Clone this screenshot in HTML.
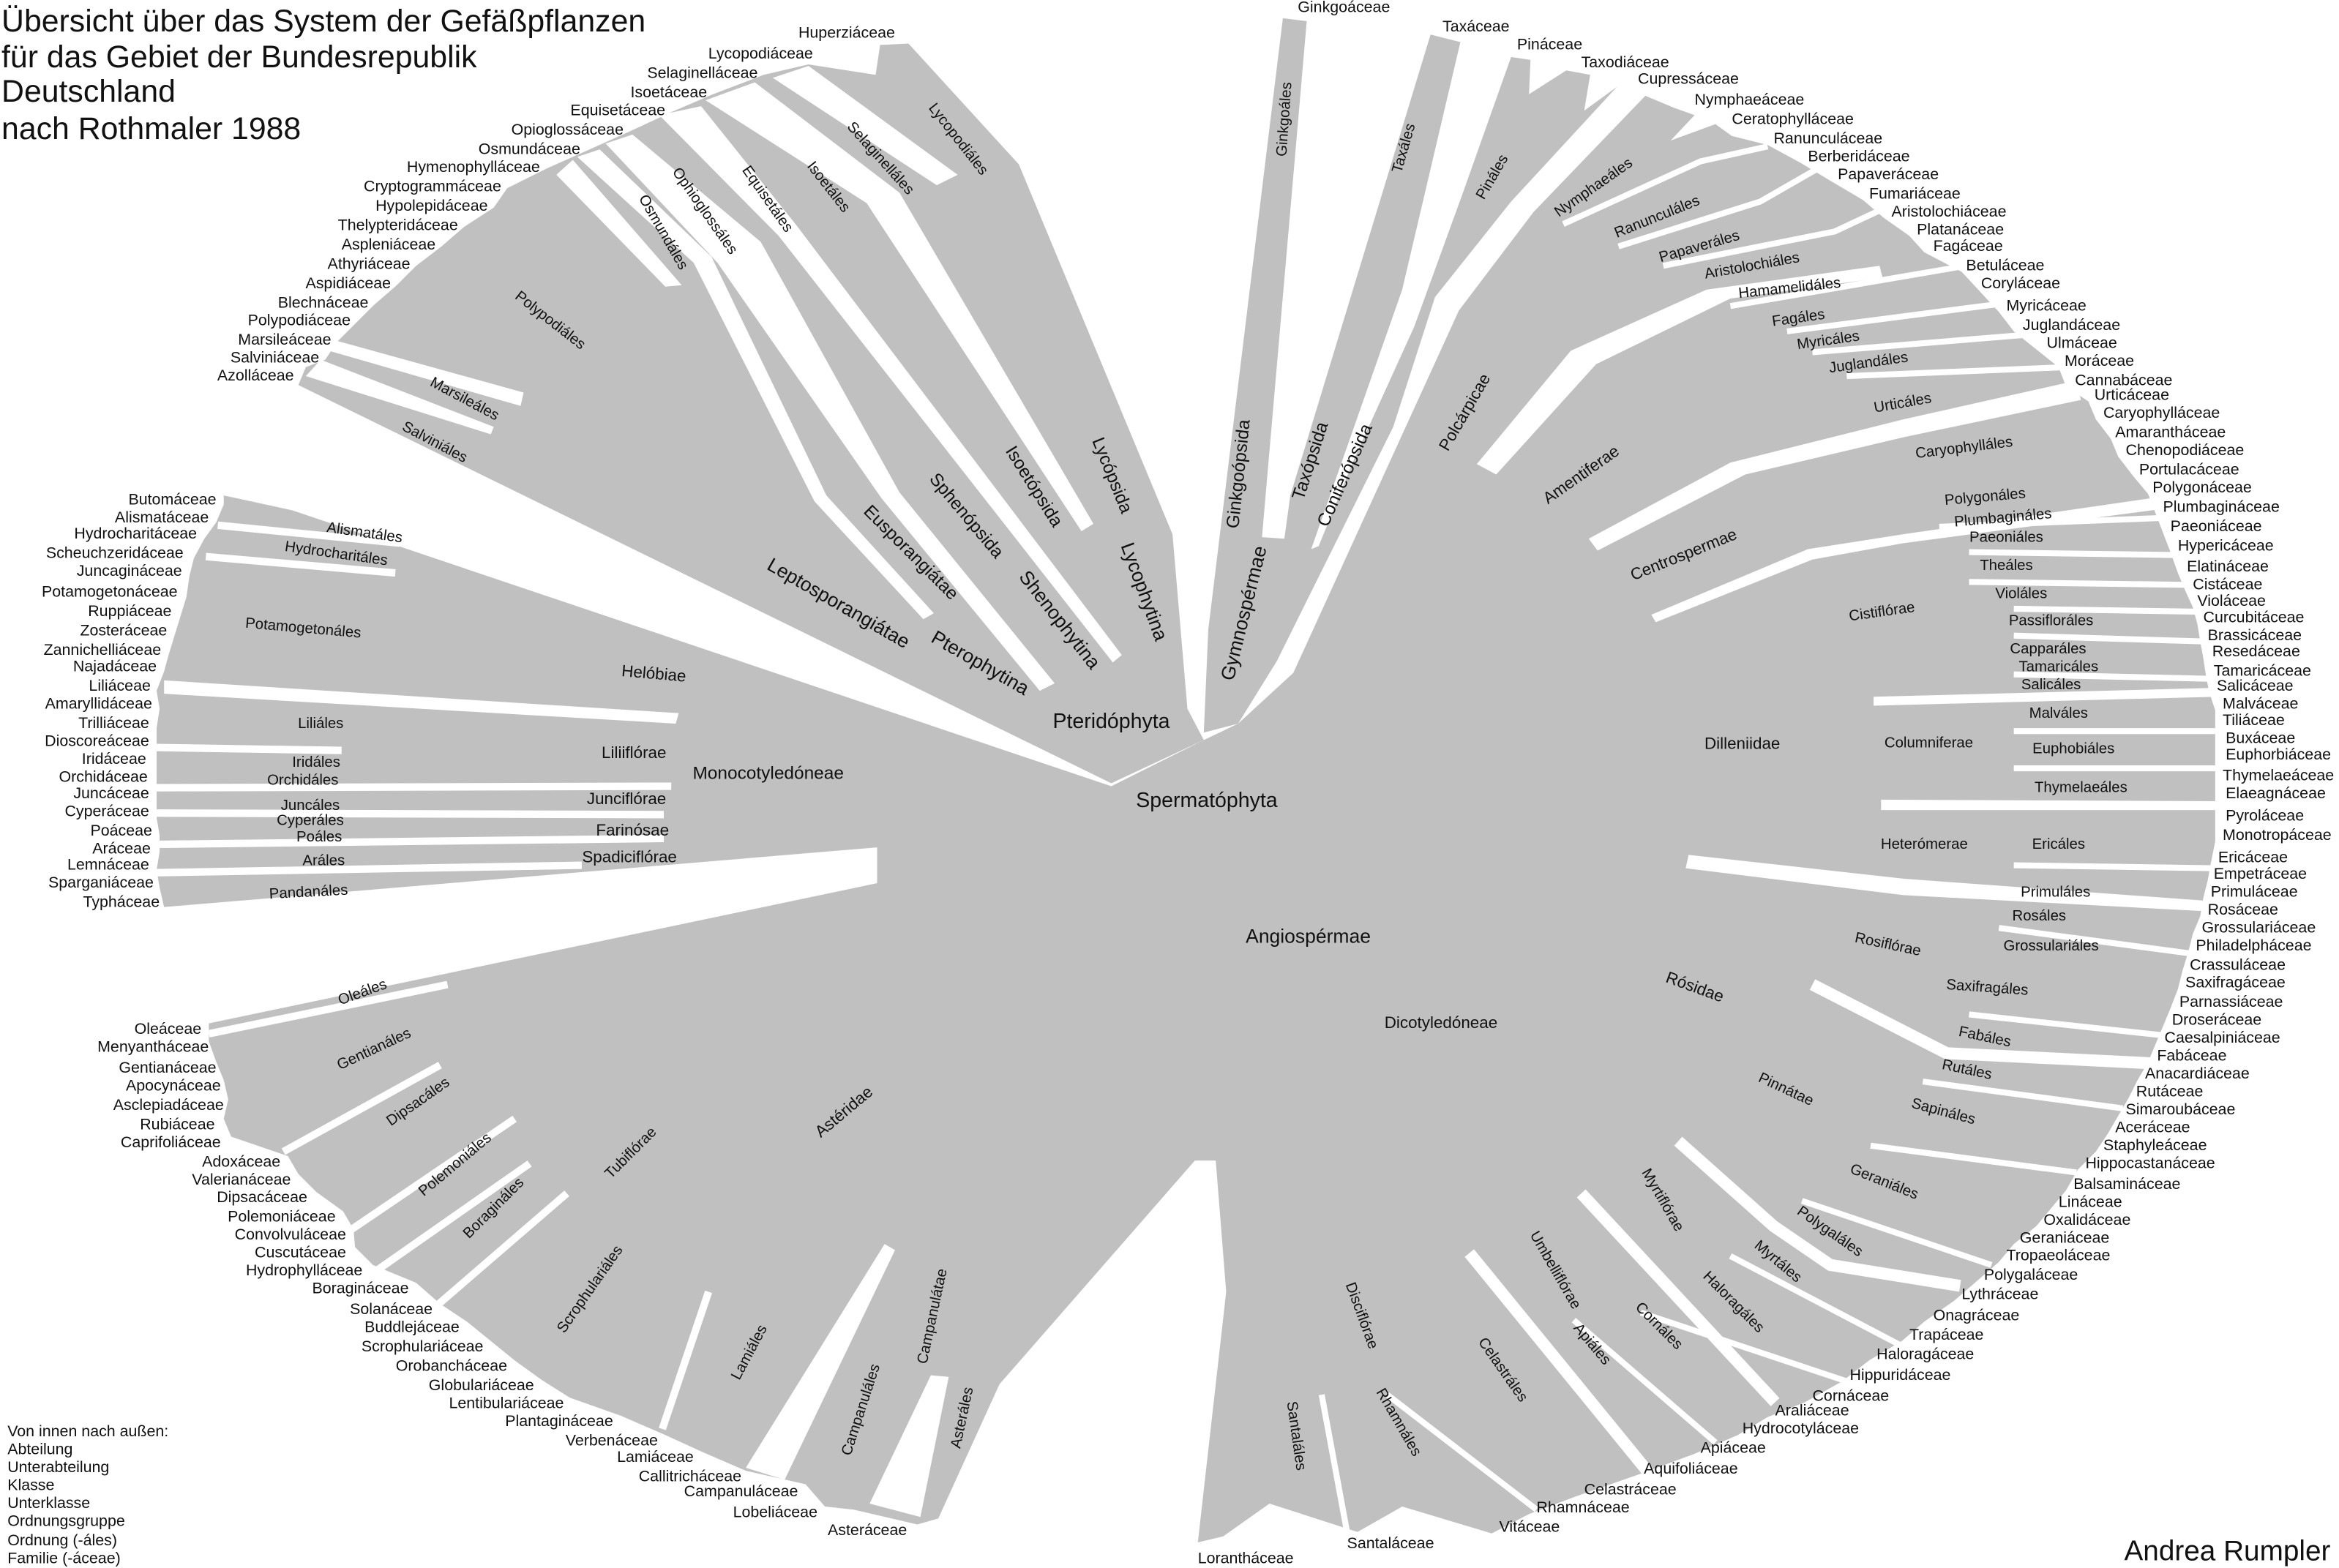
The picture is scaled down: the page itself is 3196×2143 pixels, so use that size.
<!DOCTYPE html>
<html><head><meta charset="utf-8">
<style>
html,body{margin:0;padding:0;background:#fff;}
svg{display:block;}
text{font-family:"Liberation Sans",Arial,sans-serif;fill:#111;}
.f{font-size:10.5px;}
.e{text-anchor:end;}
.m{text-anchor:middle;}
.o{font-size:10px;text-anchor:middle;}
.c{font-size:12px;text-anchor:middle;}
.s{font-size:11px;text-anchor:middle;}
</style></head>
<body>
<svg width="3196" height="2143" viewBox="0 0 1568 1051" xmlns="http://www.w3.org/2000/svg">
<rect width="1568" height="1051" fill="#fff"/>
<g fill="#c0c0c0">
<!-- Pteridophyta -->
<polygon points="807,496 745,525 200,258 205,246 218,241 226,229 239,216 251,204 266,191 279,178 296,165 311,152 331,139 340,126 366,113 393,101 422,88 450,75 478,63 512,50 542,43 587,50 590,30 609,29 683,110 786,358 796,475"/>
<!-- Gymnosperms -->
<polygon points="807,491 810,422 860,12 876,14 846,360 861,361 865,332 959,23 979,28 940,194 879,368 884,366 908,307 948,219 980,131 1013,38 1026,40 1025,63 1050,47 1066,50 1062,74 1084,58 1013,135 962,199 934,286 856,443 830,485"/>
<!-- Main blob -->
<polygon points="745,527 196,342 150,332 150,338 145,350 137,361 130,374 127,386 125,400 121,413 117,426 113,439 110,450 105,463 107,475 105,488 105,500 105,512 105,524 105,535 105,548 107,560 107,571 105,583 107,595 110,608 588,568 588,592 140,686 140,698 145,712 150,724 153,737 150,750 155,762 193,775 200,787 212,799 230,812 237,824 238,836 250,848 279,860 295,874 313,886 329,899 345,912 363,925 382,937 416,949 446,962 470,973 500,986 540,995 553,1010 572,1012 615,1022 629,1018 670,928 801,778 815,778 822,866 803,1034 820,1030 851,1008 910,1027 940,1010 1000,1028 1025,1015 1057,1003 1097,989 1135,975 1165,962 1185,950 1210,940 1235,926 1253,912 1275,899 1290,886 1310,872 1325,859 1340,846 1350,834 1365,822 1375,810 1385,798 1393,784 1405,772 1413,760 1420,748 1427,736 1433,724 1440,712 1445,700 1450,688 1455,676 1460,663 1463,651 1467,638 1470,626 1475,614 1477,602 1480,590 1482,579 1485,564 1485,551 1485,536 1485,524 1485,510 1485,499 1485,487 1485,476 1481,464 1479,454 1477,441 1475,430 1473,418 1470,407 1465,396 1460,384 1455,370 1450,357 1445,344 1440,331 1430,319 1420,306 1415,294 1405,281 1400,269 1385,259 1380,246 1365,234 1350,222 1340,209 1315,182 1290,169 1280,158 1263,146 1249,134 1227,121 1207,109 1185,97 1161,91 1150,83 1120,94 1136,77 1122,72 1103,64 1028,142 978,208 867,451 830,485 807,496"/>
</g>
<g fill="#fff">
<!-- Pteridophyta gaps -->
<polygon points="518,52 542,44 642,117 628,124"/>
<polygon points="473,67 506,55 603,129 733,351 725,356 581,136"/>
<polygon points="442,77 470,71 534,151 752,439 746,444 522,158"/>
<polygon points="406,96 424,90 510,162 603,330 707,458 697,463 591,334 481,176"/>
<polygon points="387,105 402,100 477,172 554,332 626,411 619,415 546,336 465,176"/>
<polygon points="373,117 384,107 457,191 446,192"/>
<polygon points="221,227 351,263 349,272 217,234"/>
<polygon points="215,241 331,286 329,291 205,252"/>
<!-- angio gaps -->
<polygon points="990,311 1053,235 1144,194 1260,178 1262,186 1160,200 1070,244 1003,318"/>
<polygon points="1065,361 1160,310 1276,281 1392,255 1395,268 1276,293 1170,318 1071,369"/>
<polygon points="1107,412 1212,368 1276,358 1448,333 1450,341 1276,364 1215,375 1110,417"/>
<polygon points="1256,467 1486,461 1486,467 1256,473"/>
<polygon points="1261,536 1487,537 1487,543 1261,543"/>
<polygon points="1132,573 1276,589 1482,604 1482,611 1276,600 1130,582"/>
</g>
<g stroke="#fff" fill="none" stroke-width="4">
<polyline points="1048,150 1140,108 1185,98"/>
<polyline points="1085,165 1180,135 1220,112"/>
<polyline points="1115,178 1230,155 1262,140"/>
<polyline points="1160,205 1318,178"/>
<polyline points="1198,222 1345,203"/>
<polyline points="1215,236 1362,224"/>
<polyline points="1238,252 1385,246"/>
<polyline points="1300,353 1452,347"/>
<polyline points="1320,370 1460,372"/>
<polyline points="1320,390 1470,392"/>
<polyline points="1350,408 1476,410"/>
<polyline points="1350,426 1480,430"/>
<polyline points="1350,452 1484,455"/>
<polyline points="1350,490 1487,490"/>
<polyline points="1350,515 1487,515"/>
<polyline points="1350,580 1486,582"/>
<polyline points="1340,622 1475,640"/>
<polyline points="1320,680 1450,694"/>
<polyline points="1289,725 1423,743"/>
<polyline points="1254,768 1392,786"/>
<polyline points="1208,805 1335,848"/>
<polyline points="1160,842 1282,906"/>
<polyline points="1100,880 1238,926"/>
<polyline points="1055,885 1150,967"/>
<polyline points="886,935 903,1027"/>
<polyline points="930,935 1030,1012"/>
</g>
<g stroke="#fff" fill="none" stroke-width="8">
<polyline points="1215,660 1305,706 1447,713"/>
<polyline points="1125,765 1189,822 1227,848 1314,862"/>
<polyline points="1060,800 1190,940"/>
<polyline points="985,840 1105,987"/>
</g>
<g stroke="#fff" fill="none" stroke-width="5">
<polyline points="146,352 268,364"/>
<polyline points="138,373 265,384"/>
<polyline points="103,501 229,503"/>
<polyline points="103,528 450,527"/>
<polyline points="103,545 445,546"/>
<polyline points="103,566 445,562"/>
<polyline points="103,585 390,580"/>
<polyline points="140,693 300,660"/>
<polyline points="190,772 295,714"/>
<polyline points="230,828 345,750"/>
<polyline points="245,857 355,780"/>
<polyline points="285,882 380,800"/>
<polyline points="475,866 444,958"/>
</g>
<g fill="#fff">
<polygon points="110,456 455,478 453,485 110,465"/>
<polygon points="593,834 600,838 526,992 500,984"/>
<polygon points="624,922 636,923 617,1017 583,1008"/>
</g>

<!-- Title -->
<g font-size="21">
<text x="1" y="21">Übersicht über das System der Gefäßpflanzen</text>
<text x="1" y="45">für das Gebiet der Bundesrepublik</text>
<text x="1" y="68">Deutschland</text>
<text x="1" y="93">nach Rothmaler 1988</text>
</g>
<g font-size="10.5">
<text x="5" y="963">Von innen nach außen:</text>
<text x="5" y="975">Abteilung</text>
<text x="5" y="987">Unterabteilung</text>
<text x="5" y="999">Klasse</text>
<text x="5" y="1011">Unterklasse</text>
<text x="5" y="1023">Ordnungsgruppe</text>
<text x="5" y="1036">Ordnung  (-áles)</text>
<text x="5" y="1048">Familie (-áceae)</text>
</g>
<text x="1424" y="1046" font-size="19">Andrea  Rumpler</text>

<!-- Left families -->
<g class="f e">
<text x="600" y="25">Huperziáceae</text>
<text x="545" y="39">Lycopodiáceae</text>
<text x="508" y="52">Selaginelláceae</text>
<text x="474" y="65">Isoetáceae</text>
<text x="446" y="77">Equisetáceae</text>
<text x="418" y="90">Opioglossáceae</text>
<text x="389" y="103">Osmundáceae</text>
<text x="362" y="115">Hymenophylláceae</text>
<text x="336" y="128">Cryptogrammáceae</text>
<text x="327" y="141">Hypolepidáceae</text>
<text x="307" y="154">Thelypteridáceae</text>
<text x="292" y="167">Aspleniáceae</text>
<text x="275" y="180">Athyriáceae</text>
<text x="262" y="193">Aspidiáceae</text>
<text x="247" y="206">Blechnáceae</text>
<text x="235" y="218">Polypodiáceae</text>
<text x="222" y="231">Marsileáceae</text>
<text x="214" y="243">Salviniáceae</text>
<text x="197" y="255">Azolláceae</text>
<text x="145" y="338">Butomáceae</text>
<text x="140" y="350">Alismatáceae</text>
<text x="132" y="361">Hydrocharitáceae</text>
<text x="123" y="374">Scheuchzeridáceae</text>
<text x="122" y="386">Juncagináceae</text>
<text x="119" y="400">Potamogetonáceae</text>
<text x="115" y="413">Ruppiáceae</text>
<text x="112" y="426">Zosteráceae</text>
<text x="108" y="439">Zannichelliáceae</text>
<text x="105" y="450">Najadáceae</text>
<text x="101" y="463">Liliáceae</text>
<text x="102" y="475">Amaryllidáceae</text>
<text x="100" y="488">Trilliáceae</text>
<text x="100" y="500">Dioscoreáceae</text>
<text x="98" y="512">Iridáceae</text>
<text x="99" y="524">Orchidáceae</text>
<text x="100" y="535">Juncáceae</text>
<text x="100" y="547">Cyperáceae</text>
<text x="102" y="560">Poáceae</text>
<text x="101" y="572">Aráceae</text>
<text x="100" y="583">Lemnáceae</text>
<text x="103" y="595">Sparganiáceae</text>
<text x="107" y="608">Typháceae</text>
<text x="135" y="693">Oleáceae</text>
<text x="140" y="705">Menyantháceae</text>
<text x="145" y="719">Gentianáceae</text>
<text x="148" y="731">Apocynáceae</text>
<text x="150" y="744">Asclepiadáceae</text>
<text x="144" y="757">Rubiáceae</text>
<text x="148" y="769">Caprifoliáceae</text>
<text x="188" y="782">Adoxáceae</text>
<text x="195" y="794">Valerianáceae</text>
<text x="206" y="806">Dipsacáceae</text>
<text x="225" y="819">Polemoniáceae</text>
<text x="232" y="831">Convolvuláceae</text>
<text x="232" y="843">Cuscutáceae</text>
<text x="243" y="855">Hydrophylláceae</text>
<text x="274" y="867">Boragináceae</text>
<text x="290" y="881">Solanáceae</text>
<text x="308" y="893">Buddlejáceae</text>
<text x="324" y="906">Scrophulariáceae</text>
<text x="340" y="919">Orobancháceae</text>
<text x="358" y="932">Globulariáceae</text>
<text x="378" y="944">Lentibulariáceae</text>
<text x="411" y="956">Plantagináceae</text>
<text x="441" y="969">Verbenáceae</text>
<text x="465" y="980">Lamiáceae</text>
<text x="497" y="993">Callitricháceae</text>
<text x="535" y="1003">Campanuláceae</text>
<text x="548" y="1017">Lobeliáceae</text>
<text x="608" y="1029">Asteráceae</text>
</g>

<!-- Right families -->
<g class="f">
<text x="870" y="8">Ginkgoáceae</text>
<text x="967" y="21">Taxáceae</text>
<text x="1017" y="33">Pináceae</text>
<text x="1060" y="45">Taxodiáceae</text>
<text x="1098" y="56">Cupressáceae</text>
<text x="1136" y="70">Nymphaeáceae</text>
<text x="1161" y="83">Ceratophylláceae</text>
<text x="1189" y="96">Ranunculáceae</text>
<text x="1212" y="108">Berberidáceae</text>
<text x="1232" y="120">Papaveráceae</text>
<text x="1253" y="133">Fumariáceae</text>
<text x="1268" y="145">Aristolochiáceae</text>
<text x="1285" y="157">Platanáceae</text>
<text x="1296" y="168">Fagáceae</text>
<text x="1318" y="181">Betuláceae</text>
<text x="1328" y="193">Coryláceae</text>
<text x="1345" y="208">Myricáceae</text>
<text x="1356" y="221">Juglandáceae</text>
<text x="1372" y="233">Ulmáceae</text>
<text x="1384" y="245">Moráceae</text>
<text x="1391" y="258">Cannabáceae</text>
<text x="1404" y="268">Urticáceae</text>
<text x="1410" y="280">Caryophylláceae</text>
<text x="1418" y="293">Amarantháceae</text>
<text x="1425" y="305">Chenopodiáceae</text>
<text x="1434" y="318">Portulacáceae</text>
<text x="1443" y="330">Polygonáceae</text>
<text x="1450" y="343">Plumbagináceae</text>
<text x="1455" y="356">Paeoniáceae</text>
<text x="1460" y="369">Hypericáceae</text>
<text x="1466" y="383">Elatináceae</text>
<text x="1470" y="395">Cistáceae</text>
<text x="1473" y="406">Violáceae</text>
<text x="1477" y="417">Curcubitáceae</text>
<text x="1480" y="429">Brassicáceae</text>
<text x="1483" y="440">Resedáceae</text>
<text x="1484" y="453">Tamaricáceae</text>
<text x="1486" y="463">Salicáceae</text>
<text x="1490" y="475">Malváceae</text>
<text x="1490" y="486">Tiliáceae</text>
<text x="1492" y="498">Buxáceae</text>
<text x="1492" y="509">Euphorbiáceae</text>
<text x="1490" y="523">Thymelaeáceae</text>
<text x="1492" y="535">Elaeagnáceae</text>
<text x="1492" y="550">Pyroláceae</text>
<text x="1490" y="563">Monotropáceae</text>
<text x="1487" y="578">Ericáceae</text>
<text x="1484" y="589">Empetráceae</text>
<text x="1482" y="601">Primuláceae</text>
<text x="1480" y="613">Rosáceae</text>
<text x="1476" y="625">Grossulariáceae</text>
<text x="1472" y="637">Philadelpháceae</text>
<text x="1468" y="650">Crassuláceae</text>
<text x="1465" y="662">Saxifragáceae</text>
<text x="1461" y="675">Parnassiáceae</text>
<text x="1456" y="687">Droseráceae</text>
<text x="1451" y="699">Caesalpiniáceae</text>
<text x="1446" y="711">Fabáceae</text>
<text x="1438" y="723">Anacardiáceae</text>
<text x="1432" y="735">Rutáceae</text>
<text x="1425" y="747">Simaroubáceae</text>
<text x="1418" y="759">Aceráceae</text>
<text x="1410" y="771">Staphyleáceae</text>
<text x="1398" y="783">Hippocastanáceae</text>
<text x="1390" y="797">Balsamináceae</text>
<text x="1380" y="809">Lináceae</text>
<text x="1370" y="821">Oxalidáceae</text>
<text x="1354" y="833">Geraniáceae</text>
<text x="1345" y="845">Tropaeoláceae</text>
<text x="1330" y="858">Polygaláceae</text>
<text x="1315" y="871">Lythráceae</text>
<text x="1296" y="885">Onagráceae</text>
<text x="1280" y="898">Trapáceae</text>
<text x="1258" y="911">Haloragáceae</text>
<text x="1240" y="925">Hippuridáceae</text>
<text x="1215" y="939">Cornáceae</text>
<text x="1190" y="949">Araliáceae</text>
<text x="1168" y="961">Hydrocotyláceae</text>
<text x="1140" y="974">Apiáceae</text>
<text x="1102" y="988">Aquifoliáceae</text>
<text x="1062" y="1002">Celastráceae</text>
<text x="1030" y="1014">Rhamnáceae</text>
<text x="1005" y="1027">Vitáceae</text>
<text x="903" y="1038">Santaláceae</text>
<text x="803" y="1048">Lorantháceae</text>
</g>

<!-- Branch labels -->
<g class="o">
<text transform="translate(640,95) rotate(52)">Lycopodiáles</text>
<text transform="translate(588,108) rotate(48)">Selaginelláles</text>
<text transform="translate(553,127) rotate(52)">Isoetáles</text>
<text transform="translate(512,135) rotate(55)">Equisetáles</text>
<text transform="translate(470,143) rotate(55)">Ophioglossáles</text>
<text transform="translate(442,157) rotate(60)">Osmundáles</text>
<text transform="translate(367,217) rotate(38)">Polypodiáles</text>
<text transform="translate(310,270) rotate(28)">Marsileáles</text>
<text transform="translate(290,299) rotate(28)">Salviniáles</text>
<text transform="translate(864,80) rotate(-86)">Ginkgoáles</text>
<text transform="translate(944,100) rotate(-74)">Taxáles</text>
<text transform="translate(1003,120) rotate(-60)">Pináles</text>
<text transform="translate(1070,128) rotate(-35)">Nymphaeáles</text>
<text transform="translate(1112,148) rotate(-22)">Ranunculáles</text>
<text transform="translate(1140,168) rotate(-16)">Papaveráles</text>
<text transform="translate(1175,181) rotate(-10)">Aristolochiáles</text>
<text transform="translate(1200,196) rotate(-6)">Hamamelidáles</text>
<text transform="translate(1206,216) rotate(-8)">Fagáles</text>
<text transform="translate(1226,231) rotate(-8)">Myricáles</text>
<text transform="translate(1253,246) rotate(-8)">Juglandáles</text>
<text transform="translate(1276,273) rotate(-10)">Urticáles</text>
<text transform="translate(1317,303) rotate(-7)">Caryophylláles</text>
<text transform="translate(1331,336) rotate(-5)">Polygonáles</text>
<text transform="translate(1343,350) rotate(-5)">Plumbagináles</text>
<text x="1345" y="363">Paeoniáles</text>
<text x="1345" y="382">Theáles</text>
<text x="1355" y="401">Violáles</text>
<text x="1375" y="419">Passifloráles</text>
<text x="1373" y="438">Capparáles</text>
<text x="1380" y="450">Tamaricáles</text>
<text x="1375" y="462">Salicáles</text>
<text transform="translate(1262,413) rotate(-8)">Cistiflórae</text>
<text x="1380" y="481">Malváles</text>
<text x="1293" y="501">Columniferae</text>
<text x="1390" y="505">Euphobiáles</text>
<text x="1395" y="531">Thymelaeáles</text>
<text x="1290" y="569">Heterómerae</text>
<text x="1380" y="569">Ericáles</text>
<text x="1378" y="601">Primuláles</text>
<text x="1367" y="617">Rosáles</text>
<text x="1375" y="637">Grossulariáles</text>
<text transform="translate(1265,636) rotate(12)">Rosiflórae</text>
<text transform="translate(1332,665) rotate(4)">Saxifragáles</text>
<text transform="translate(1330,698) rotate(12)">Fabáles</text>
<text transform="translate(1318,720) rotate(12)">Rutáles</text>
<text transform="translate(1302,748) rotate(15)">Sapináles</text>
<text transform="translate(1196,733) rotate(25)">Pinnátae</text>
<text transform="translate(1262,795) rotate(22)">Geraniáles</text>
<text transform="translate(1225,828) rotate(35)">Polygaláles</text>
<text transform="translate(1190,848) rotate(40)">Myrtáles</text>
<text transform="translate(1160,875) rotate(45)">Haloragáles</text>
<text transform="translate(1112,806) rotate(60)">Myrtiflórae</text>
<text transform="translate(1110,891) rotate(45)">Cornáles</text>
<text transform="translate(1040,853) rotate(60)">Umbelliflórae</text>
<text transform="translate(1065,903) rotate(50)">Apiáles</text>
<text transform="translate(1005,920) rotate(55)">Celastráles</text>
<text transform="translate(935,955) rotate(60)">Rhamnáles</text>
<text transform="translate(910,883) rotate(70)">Disciflórae</text>
<text transform="translate(866,963) rotate(82)">Santaláles</text>
<text transform="translate(244,360) rotate(8)">Alismatáles</text>
<text transform="translate(225,374) rotate(8)">Hydrocharitáles</text>
<text transform="translate(203,424) rotate(5)">Potamogetonáles</text>
<text x="215" y="488">Liliáles</text>
<text x="212" y="514">Iridáles</text>
<text x="203" y="526">Orchidáles</text>
<text x="208" y="543">Juncáles</text>
<text x="208" y="553">Cyperáles</text>
<text x="214" y="564">Poáles</text>
<text x="217" y="580">Aráles</text>
<text transform="translate(207,601) rotate(-3)">Pandanáles</text>
<text transform="translate(244,668) rotate(-20)">Oleáles</text>
<text transform="translate(252,706) rotate(-25)">Gentianáles</text>
<text transform="translate(282,741) rotate(-35)">Dipsacáles</text>
<text transform="translate(307,783) rotate(-40)">Polemoniáles</text>
<text transform="translate(333,812) rotate(-45)">Boragináles</text>
<text transform="translate(425,775) rotate(-45)">Tubiflórae</text>
<text transform="translate(398,866) rotate(-55)">Scrophulariáles</text>
<text transform="translate(505,908) rotate(-62)">Lamiáles</text>
<text transform="translate(580,946) rotate(-72)">Campanuláles</text>
<text transform="translate(628,883) rotate(-78)">Campanulátae</text>
<text transform="translate(648,951) rotate(-78)">Asteráles</text>
</g>
<g class="s">
<text transform="translate(438,455) rotate(5)">Helóbiae</text>
<text x="425" y="508">Liliiflórae</text>
<text x="420" y="539">Junciflórae</text>
<text x="424" y="560">Farinósae</text>
<text x="422" y="578">Spadiciflórae</text>
<text transform="translate(568,748) rotate(-40)">Astéridae</text>
<text transform="translate(985,278) rotate(-60)">Polcárpicae</text>
<text transform="translate(1062,321) rotate(-35)">Amentiferae</text>
<text transform="translate(1130,375) rotate(-22)">Centrospermae</text>
<text x="1168" y="502">Dilleniidae</text>
<text transform="translate(1135,665) rotate(20)">Rósidae</text>
<text x="966" y="689">Dicotyledóneae</text>
</g>
<g class="c">
<text transform="translate(742,320) rotate(68)">Lycópsida</text>
<text transform="translate(690,328) rotate(58)">Isoetópsida</text>
<text transform="translate(645,348) rotate(50)">Sphenópsida</text>
<text transform="translate(608,373) rotate(45)">Eusporangiátae</text>
<text transform="translate(834,318) rotate(-84)">Ginkgoópsida</text>
<text transform="translate(882,310) rotate(-72)">Taxópsida</text>
<text transform="translate(905,320) rotate(-66)">Coniferópsida</text>
<text x="515" y="522">Monocotyledóneae</text>
</g>
<g font-size="13" text-anchor="middle">
<text transform="translate(763,398) rotate(70)">Lycophytina</text>
<text transform="translate(707,418) rotate(52)">Shenophytina</text>
<text transform="translate(560,408) rotate(30)">Leptosporangiátae</text>
<text transform="translate(655,448) rotate(30)">Pterophytina</text>
<text transform="translate(838,412) rotate(-76)">Gymnospérmae</text>
<text x="877" y="632">Angiospérmae</text>
</g>
<g font-size="14" text-anchor="middle">
<text x="745" y="488">Pteridóphyta</text>
<text x="809" y="541">Spermatóphyta</text>
</g>
</svg>
</body></html>
